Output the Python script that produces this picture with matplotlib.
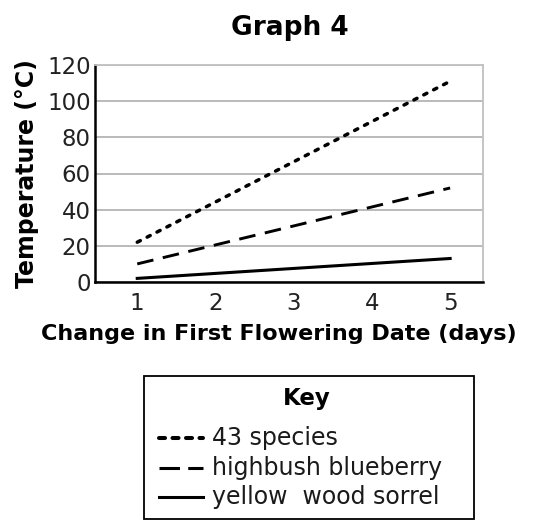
import matplotlib.pyplot as plt
from matplotlib.patches import Rectangle
from matplotlib.lines import Line2D

# data
days = [1, 5]
species_43 = [22, 111]
blueberry = [10, 52]
sorrel = [2, 13]
labels = ["43 species", "highbush blueberry", "yellow  wood sorrel"]
y_ticks = [0, 20, 40, 60, 80, 100, 120]
x_ticks = [1, 2, 3, 4, 5]

plt.rcParams['font.family'] = 'DejaVu Sans'

W, H = 559, 523
fig = plt.figure(figsize=(W / 100, H / 100), dpi=100)
ax = fig.add_axes([95 / W, 1 - 282 / H, 388 / W, 217 / H])

# line styles: (dash pattern, width in pt, cap style)
plot_styles = [((0, (1.0, 2.2)), 2.5, 'round'), ((0, (5.7, 3.3)), 2.1, 'butt'), ('-', 2.2, 'butt')]
key_styles = [((0, (1.5, 1.85)), 2.9, 'round'), ((0, (6.7, 2.7)), 2.2, 'butt'), ('-', 2.2, 'butt')]
series = [species_43, blueberry, sorrel]

for vals, (ls, lw, cap) in zip(series, plot_styles):
    ax.plot(days, vals, color='black', lw=lw, linestyle=ls, dash_capstyle=cap)

ax.set_xlim(0.46, 5.42)
ax.set_ylim(0, 120)
ax.set_xticks(x_ticks)
ax.set_yticks(y_ticks)
ax.tick_params(length=0, labelsize=16.5, colors='#222222')
ax.tick_params(axis='y', pad=3)
ax.tick_params(axis='x', pad=7)
ax.yaxis.grid(True, color='#b4b4b4', lw=1.3)
ax.set_axisbelow(True)

for side in ['top', 'right']:
    ax.spines[side].set_color('#c0c0c0')
    ax.spines[side].set_linewidth(1.3)
for side in ['left', 'bottom']:
    ax.spines[side].set_color('black')
    ax.spines[side].set_linewidth(1.8)

ax.set_ylabel("Temperature (°C)", fontsize=17, fontweight='bold', labelpad=6)
fig.text(279 / W, 1 - 334 / H, "Change in First Flowering Date (days)", fontsize=16,
         fontweight='bold', ha='center', va='center')
fig.text(290 / W, 1 - 28 / H, "Graph 4", fontsize=19, fontweight='bold', ha='center', va='center')

# key box, drawn in figure pixels
fig.add_artist(Rectangle((144 / W, 1 - 519 / H), 330 / W, 143 / H, transform=fig.transFigure,
                         facecolor='white', edgecolor='black', lw=1.3))
fig.text(307 / W, 1 - 398 / H, "Key", fontsize=16.5, fontweight='bold', ha='center', va='center')
key_ys = [438, 468, 497]
for label, ky, (ls, lw, cap) in zip(labels, key_ys, key_styles):
    fig.add_artist(Line2D([159 / W, 203 / W], [1 - ky / H, 1 - ky / H], transform=fig.transFigure,
                          color='black', lw=lw, linestyle=ls, dash_capstyle=cap))
    fig.text(212 / W, 1 - ky / H, label, fontsize=17, ha='left', va='center', color='#1a1a1a')

fig.savefig("out.png", dpi=100)
